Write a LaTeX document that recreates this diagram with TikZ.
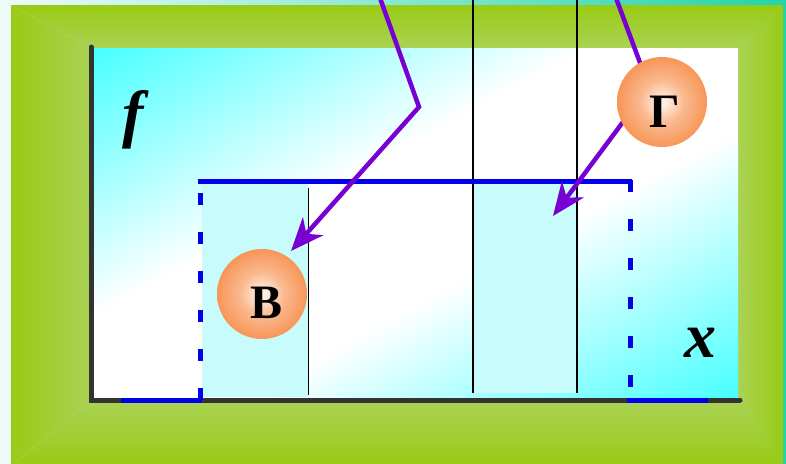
\documentclass[tikz,border=0pt]{standalone}
\usepackage{fontspec}
\setmainfont{Liberation Serif}
\usetikzlibrary{arrows.meta,positioning,calc}
\definecolor{frameGreen}{RGB}{153,203,20}
\definecolor{frameLight}{RGB}{170,210,85}
\definecolor{edgeLight}{RGB}{238,252,250}
\definecolor{edgeTeal}{RGB}{34,212,170}
\definecolor{plotCyan}{RGB}{30,255,255}
\definecolor{bandCyan}{RGB}{200,252,252}
\definecolor{rangeBlue}{RGB}{0,0,235}
\definecolor{axisGray}{RGB}{51,51,51}
\definecolor{pointerViolet}{RGB}{120,0,210}
\definecolor{ballOrange}{RGB}{247,150,88}
\definecolor{ballCore}{RGB}{255,238,226}
\pgfdeclareradialshading{ballshade}{\pgfpoint{0bp}{0bp}}{color(0bp)=(ballCore); color(2bp)=(ballCore); color(12bp)=(ballOrange!60!ballCore); color(25bp)=(ballOrange); color(50bp)=(ballOrange)}
\pgfdeclarehorizontalshading{plotshade}{100bp}{color(0bp)=(plotCyan); color(10bp)=(plotCyan); color(42bp)=(white); color(58bp)=(white); color(90bp)=(plotCyan); color(100bp)=(plotCyan)}

\begin{document}
\begin{tikzpicture}[x=1pt, y=-1pt,
    ball/.style={circle, shading=ballshade, minimum size=90pt, inner sep=0pt},
    ballletter/.style={font=\fontsize{48}{48}\selectfont\bfseries, inner sep=0pt},
    axislabel/.style={font=\fontsize{64}{64}\selectfont\bfseries\itshape, inner sep=0pt},
    pointer/.style={pointerViolet, line width=4.5pt, -{Stealth[length=33pt, width=27pt, inset=10pt]}},
    rangeline/.style={rangeBlue, line width=5pt},
    rangedash/.style={rangeBlue, line width=5pt, dash pattern=on 12pt off 27pt}]
    \useasboundingbox (0,0) rectangle (786,463);
    % --- backdrop and bevelled green frame ---
    \shade[left color=edgeLight, right color=edgeTeal] (0,0) rectangle (786,463);
    \shade[left color=frameGreen, right color=frameLight] (11,5) -- (91,48) -- (91,400) -- (11,466) -- cycle;
    \shade[top color=frameGreen, bottom color=frameLight] (11,5) -- (783,5) -- (738,48) -- (91,48) -- cycle;
    \shade[left color=frameLight, right color=frameGreen] (738,48) -- (783,5) -- (783,466) -- (738,400) -- cycle;
    \shade[top color=frameLight, bottom color=frameGreen] (91,400) -- (738,400) -- (783,466) -- (11,466) -- cycle;
    % --- plot area: cyan corners, white diagonal ---
    \shade[shading=plotshade, shading angle=-61.5] (93,48) rectangle (738,398);
    \fill[bandCyan] (202,182) rectangle (308,397);
    \fill[bandCyan] (473,182) rectangle (577,393);
    % --- vertical guides ---
    \draw[black, line width=0.8pt] (308,188) -- (308,395);
    \draw[black, line width=2pt] (473,0) -- (473,393);
    \draw[black, line width=1.5pt] (577,0) -- (577,393);
    % --- axes ---
    \draw[axisGray, line width=5pt, line cap=round] (91,47) -- (91,400) -- (740,400);
    \node[axislabel] (labelF) at (133,120) {f};
    \node[axislabel] (labelX) at (700,343) {x};
    % --- blue range box ---
    \draw[rangeline] (198,181) -- (632,181);
    \draw[rangedash] (200,193) -- (200,402);
    \draw[rangedash] (630,180) -- (630,400);
    \draw[rangeline] (121,400) -- (202,400);
    \draw[rangeline] (627,400) -- (708,400);
    % --- pointers (drawn under the balls) ---
    \coordinate (topB) at (380,-2);
    \coordinate (bendB) at (419,107);
    \coordinate (tipB) at (291,251);
    \coordinate (topG) at (616,-2);
    \coordinate (bendG) at (649,87);
    \coordinate (tipG) at (553,216);
    \draw[pointer] (topB) -- (bendB) -- (tipB);
    \draw[pointer] (topG) -- (bendG) -- (tipG);
    % --- answer balls ---
    \node[ball] (ballB) at (262,294) {};
    \node[ballletter] (letterB) at (267,303) {В};
    \node[ball] (ballG) at (662,102) {};
    \node[ballletter] (letterG) at (665,112) {Г};
\end{tikzpicture}
\end{document}
